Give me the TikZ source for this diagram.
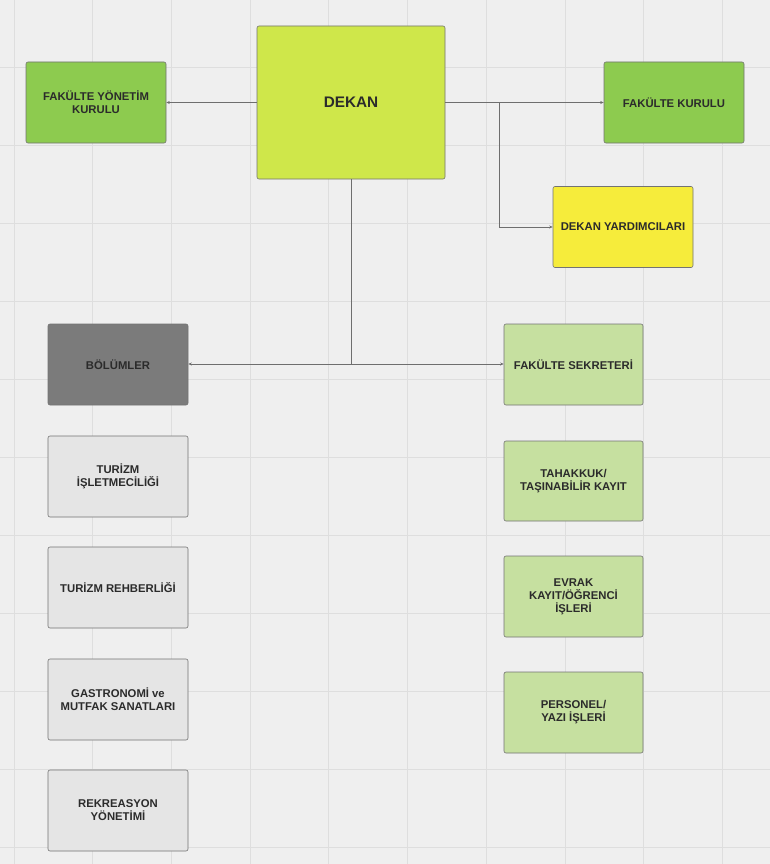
\documentclass[tikz,border=0pt]{standalone}
\usepackage{fontspec}
\setmainfont{Liberation Sans}
\usetikzlibrary{arrows.meta}
\definecolor{bg}{HTML}{EFEFEF}
\definecolor{gridc}{HTML}{DEDEDE}
\definecolor{dekanc}{HTML}{CFE74A}
\definecolor{greenc}{HTML}{8DCB4F}
\definecolor{yellowc}{HTML}{F6EC3B}
\definecolor{darkc}{HTML}{7B7B7B}
\definecolor{lgrayc}{HTML}{E5E5E5}
\definecolor{lgreenc}{HTML}{C6E0A0}
\definecolor{txtc}{HTML}{2B2B2B}
\definecolor{linec}{HTML}{6E6E6E}
\tikzset{
  box/.style={draw=black!55, line width=0.6pt, rounded corners=2pt, minimum width=140pt, minimum height=81pt, align=center, inner sep=2pt, font=\bfseries\fontsize{11.3}{13}\selectfont, text=txtc},
  conn/.style={draw=linec, line width=0.8pt, -{Stealth[length=3.5pt,width=3pt]}},
  seg/.style={draw=linec, line width=0.8pt}
}
\begin{document}
\begin{tikzpicture}[x=1pt,y=-1pt]
\fill[bg] (0,0) rectangle (770,864);
\useasboundingbox (0,0) rectangle (770,864);
\foreach \i in {0,...,9} { \draw[gridc, line width=0.8pt] ({14+78.7*\i},0) -- ({14+78.7*\i},864); }
\foreach \j in {0,...,10} { \draw[gridc, line width=0.8pt] (0,{67+78*\j}) -- (770,{67+78*\j}); }

\node[box, fill=dekanc, minimum width=188pt, minimum height=153pt, font=\bfseries\fontsize{15.3}{17}\selectfont] (dekan) at (351,102.5) {DEKAN};
\node[box, fill=greenc] (fyk) at (96,102.5) {FAKÜLTE YÖNETİM\\KURULU};
\node[box, fill=greenc] (fk) at (674,102.5) {FAKÜLTE KURULU};
\node[box, fill=yellowc] (dy) at (623,227) {DEKAN YARDIMCILARI};
\node[box, fill=darkc] (bol) at (118,364.5) {BÖLÜMLER};
\node[box, fill=lgrayc] (b1) at (118,476.5) {TURİZM\\İŞLETMECİLİĞİ};
\node[box, fill=lgrayc] (b2) at (118,587.5) {TURİZM REHBERLİĞİ};
\node[box, fill=lgrayc] (b3) at (118,699.5) {GASTRONOMİ ve\\MUTFAK SANATLARI};
\node[box, fill=lgrayc] (b4) at (118,810.5) {REKREASYON\\YÖNETİMİ};
\node[box, fill=lgreenc, minimum width=139pt] (fs) at (573.5,364.5) {FAKÜLTE SEKRETERİ};
\node[box, fill=lgreenc, minimum width=139pt, minimum height=80pt] (s1) at (573.5,481) {TAHAKKUK/\\TAŞINABİLİR KAYIT};
\node[box, fill=lgreenc, minimum width=139pt] (s2) at (573.5,596.5) {EVRAK\\KAYIT/ÖĞRENCİ\\İŞLERİ};
\node[box, fill=lgreenc, minimum width=139pt] (s3) at (573.5,712.5) {PERSONEL/\\YAZI İŞLERİ};

\coordinate (j1) at (499,102.5);
\coordinate (j2) at (351,364);
\draw[conn] (dekan.west) -- (fyk.east);
\draw[conn] (dekan.east) -- (fk.west);
\draw[conn] (j1) |- (dy.west);
\draw[seg] (dekan.south) -- (j2);
\draw[conn] (j2) -- (bol.east |- j2);
\draw[conn] (j2) -- (fs.west |- j2);
\end{tikzpicture}
\end{document}
